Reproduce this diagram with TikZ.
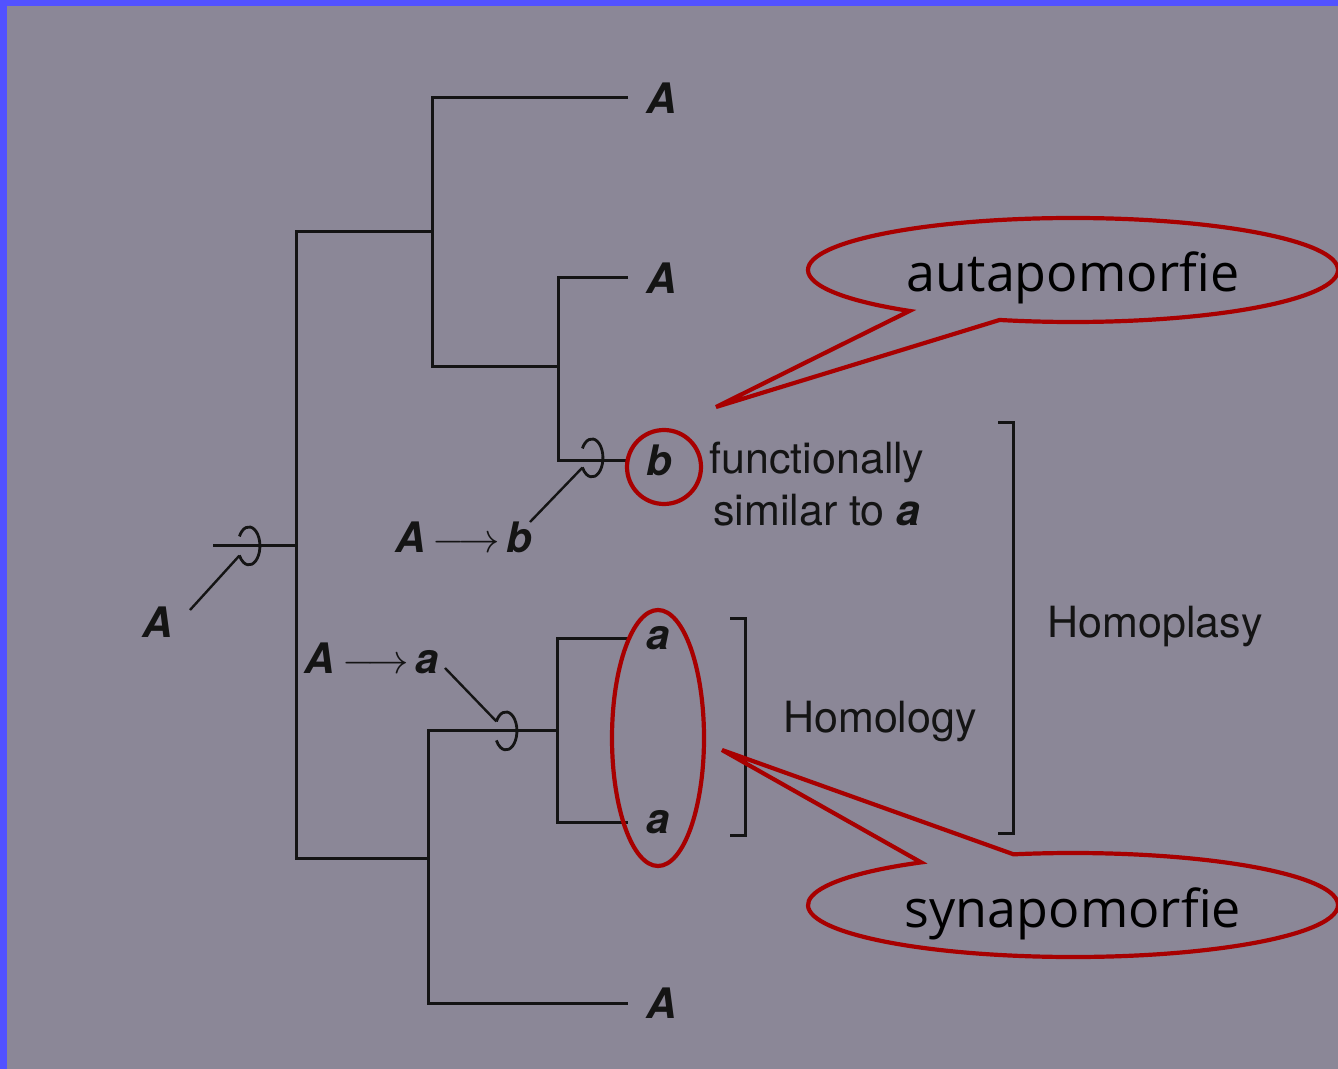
\documentclass[tikz,border=0pt]{standalone}
\usepackage{fontspec}
\setmainfont{TeX Gyre Heros}
\newfontfamily\bubblefont{Open Sans}
\definecolor{slidebg}{RGB}{139,135,151}
\definecolor{slideblue}{RGB}{82,82,255}
\definecolor{markred}{RGB}{168,0,0}
\colorlet{ink}{black!92}
\usetikzlibrary{calc, positioning, shapes.geometric, shapes.callouts}
% open loop on a branch, drawn round its centre
\newcommand{\loopat}[1]{%
  \draw[hook] ([shift={(-4.8pt,4.8pt)}]#1) arc[start angle=150, end angle=-150, x radius=5.5pt, y radius=9.5pt];}

\begin{document}
\begin{tikzpicture}[x=0.5pt, y=-0.5pt,
    branch/.style={draw=ink, line width=1.5pt},
    hook/.style={draw=ink, line width=1.4pt},
    tick/.style={draw=ink, line width=1.2pt},
    taxon/.style={font=\fontsize{21}{24}\selectfont\bfseries\itshape, text=ink,
      inner xsep=9pt, inner ysep=0pt, anchor=west},
    change/.style={font=\fontsize{21}{24}\selectfont\bfseries\itshape, text=ink, inner sep=0pt},
    note/.style={font=\fontsize{21.5}{26}\selectfont, text=ink, inner sep=0pt, align=center},
    redring/.style={draw=markred, line width=2.1pt, inner sep=0pt},
    bubble/.style={ellipse callout, draw=markred, line width=2.1pt, minimum width=265pt,
      minimum height=52pt, callout pointer arc=22, text=black, text height=24pt, text depth=2pt,
      font=\bubblefont\fontsize{26}{30}\selectfont},
  ]
    % slide
    \fill[slideblue] (0,0) rectangle (1338,1069);
    \fill[slidebg] (7,6) rectangle (1338,1069);
    \useasboundingbox (0,0) rectangle (1338,1069);

    % tips
    \node[taxon] (t1) at (628,98) {A};
    \node[taxon] (t2) at (628,278) {A};
    \node[taxon] (t3) at (628,460) {b};
    \node[taxon] (t4) at (628,638) {a};
    \node[taxon] (t5) at (628,822) {a};
    \node[taxon] (t6) at (628,1003) {A};

    % inner nodes
    \coordinate (stem) at (213,545);
    \coordinate (root) at (296,545);
    \coordinate (up) at (432,232);
    \coordinate (upin) at (558,367);
    \coordinate (low) at (428,858);
    \coordinate (lowin) at (557,730);

    % branches
    \draw[branch] (stem) -- (root);
    \draw[branch] (up) -| (root) |- (low);
    \draw[branch] (t1.west) -| (up) |- (upin);
    \draw[branch] (t2.west) -| (upin) |- (t3.west);
    \draw[branch] (lowin) -| (low) |- (t6.west);
    \draw[branch] (t4.west) -| (lowin) |- (t5.west);

    % character changes
    \coordinate (h0) at (249,546);
    \coordinate (h1) at (592,458);
    \coordinate (h2) at (506,731);
    \loopat{h0}
    \loopat{h1}
    \loopat{h2}
    \node[change] (anc) at (158,622) {A};
    \coordinate (ancend) at (190,610);
    \draw[tick] (ancend) -- ([shift={(-4.8pt,-4.8pt)}]h0);
    \node[change] (tob) at (464,537) {A\,$\longrightarrow$\,b};
    \coordinate (tobend) at (530,522);
    \draw[tick] (tobend) -- ([shift={(-4.8pt,-4.8pt)}]h1);
    \node[change] (toa) at (372,658) {A\,$\longrightarrow$\,a};
    \coordinate (toaend) at (445,668);
    \draw[tick] (toaend) -- ([shift={(-4.8pt,4.8pt)}]h2);

    % notes and brackets
    \node[note] (func) at (817,484) {functionally\\similar to \textbf{\textit{a}}};
    \node[note] (homology) at (880,722) {Homology};
    \node[note] (homoplasy) at (1155,627) {Homoplasy};
    \draw[branch] (730,618) -- (745,618) -- (745,835) -- (730,835);
    \draw[branch] (998,423) -- (1013,423) -- (1013,833) -- (998,833);

    % red marks
    \node[redring, circle, minimum size=37pt] (bring) at (664,467) {};
    \node[redring, ellipse, minimum width=46pt, minimum height=128pt] (aring) at (658,738) {};
    \node[bubble, callout absolute pointer={(716,407)}] (auta) at (1073,270) {autapomorfie};
    \node[bubble, callout absolute pointer={(722,750)}] (syna) at (1073,905) {synapomorfie};
\end{tikzpicture}
\end{document}
